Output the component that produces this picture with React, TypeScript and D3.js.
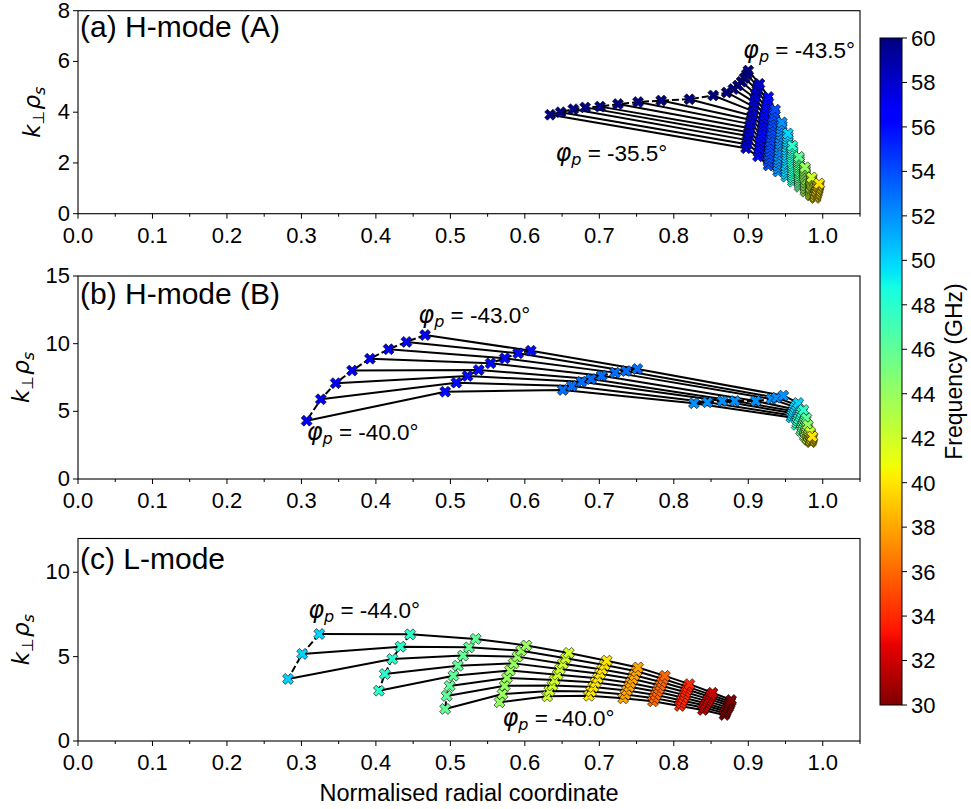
import React from 'react';
import * as d3 from 'd3';

// ---------------------------------------------------------------------------
// Data. Each panel: one column per probing frequency (GHz); inside a column the
// points are ordered by launch angle, from the most negative angle (top) down.
// ---------------------------------------------------------------------------

// (a) H-mode (A): launch angles -43.5° ... -35.5°
const aFreqs = [60, 58, 56, 54, 52, 50, 48, 46, 44, 42, 40];
const aX = [
  [0.900, 0.898, 0.895, 0.891, 0.886, 0.880, 0.871, 0.853, 0.821, 0.783, 0.752, 0.725, 0.701, 0.681, 0.665, 0.648, 0.634],
  [0.915, 0.913, 0.912, 0.910, 0.909, 0.908, 0.907, 0.906, 0.905, 0.904, 0.903, 0.902, 0.901, 0.900, 0.899, 0.898, 0.897],
  [0.927, 0.926, 0.925, 0.924, 0.923, 0.922, 0.921, 0.920, 0.920, 0.919, 0.918, 0.917, 0.916, 0.916, 0.915, 0.914, 0.913],
  [0.936, 0.935, 0.934, 0.934, 0.933, 0.933, 0.932, 0.932, 0.931, 0.930, 0.930, 0.929, 0.929, 0.928, 0.928, 0.927, 0.927],
  [0.945, 0.945, 0.944, 0.944, 0.944, 0.943, 0.943, 0.943, 0.942, 0.942, 0.942, 0.941, 0.941, 0.941, 0.940, 0.940, 0.940],
  [0.953, 0.953, 0.953, 0.953, 0.953, 0.952, 0.952, 0.952, 0.952, 0.952, 0.952, 0.952, 0.951, 0.951, 0.951, 0.951, 0.951],
  [0.959, 0.959, 0.959, 0.959, 0.959, 0.959, 0.959, 0.959, 0.960, 0.960, 0.960, 0.960, 0.960, 0.960, 0.960, 0.960, 0.960],
  [0.968, 0.968, 0.968, 0.968, 0.968, 0.968, 0.968, 0.968, 0.969, 0.969, 0.969, 0.969, 0.969, 0.969, 0.969, 0.969, 0.969],
  [0.976, 0.976, 0.976, 0.976, 0.976, 0.976, 0.976, 0.976, 0.977, 0.977, 0.977, 0.977, 0.977, 0.977, 0.977, 0.977, 0.977],
  [0.985, 0.985, 0.985, 0.985, 0.985, 0.985, 0.985, 0.985, 0.984, 0.984, 0.984, 0.984, 0.984, 0.984, 0.984, 0.984, 0.984],
  [0.995, 0.995, 0.994, 0.994, 0.994, 0.993, 0.993, 0.993, 0.992, 0.992, 0.992, 0.991, 0.991, 0.991, 0.990, 0.990, 0.990],
];
const aY = [
  [5.64, 5.50, 5.35, 5.20, 5.05, 4.91, 4.78, 4.66, 4.51, 4.46, 4.40, 4.32, 4.22, 4.19, 4.12, 4.00, 3.90],
  [5.12, 5.00, 4.87, 4.72, 4.56, 4.40, 4.22, 4.04, 3.86, 3.69, 3.53, 3.37, 3.21, 3.06, 2.90, 2.74, 2.58],
  [4.60, 4.45, 4.31, 4.16, 4.02, 3.87, 3.72, 3.58, 3.43, 3.28, 3.14, 2.99, 2.84, 2.70, 2.55, 2.41, 2.26],
  [4.10, 3.96, 3.82, 3.69, 3.55, 3.41, 3.27, 3.14, 3.00, 2.86, 2.72, 2.59, 2.45, 2.31, 2.17, 2.04, 1.90],
  [3.60, 3.48, 3.36, 3.24, 3.11, 2.99, 2.87, 2.75, 2.63, 2.51, 2.39, 2.27, 2.14, 2.02, 1.90, 1.78, 1.66],
  [3.16, 3.05, 2.95, 2.84, 2.74, 2.63, 2.52, 2.42, 2.31, 2.20, 2.10, 1.99, 1.89, 1.78, 1.67, 1.57, 1.46],
  [2.68, 2.59, 2.50, 2.41, 2.33, 2.24, 2.15, 2.06, 1.97, 1.88, 1.79, 1.70, 1.62, 1.53, 1.44, 1.35, 1.26],
  [2.24, 2.17, 2.09, 2.02, 1.94, 1.87, 1.80, 1.72, 1.65, 1.58, 1.50, 1.43, 1.36, 1.28, 1.21, 1.13, 1.06],
  [1.83, 1.77, 1.71, 1.65, 1.59, 1.53, 1.47, 1.41, 1.35, 1.29, 1.23, 1.17, 1.11, 1.05, 0.99, 0.93, 0.87],
  [1.43, 1.39, 1.34, 1.30, 1.25, 1.21, 1.16, 1.12, 1.08, 1.03, 0.99, 0.94, 0.90, 0.85, 0.81, 0.76, 0.72],
  [1.19, 1.15, 1.12, 1.08, 1.05, 1.01, 0.97, 0.94, 0.90, 0.87, 0.83, 0.80, 0.76, 0.73, 0.69, 0.66, 0.62],
];

// (b) H-mode (B): launch angles -43.0° ... -40.0°
const bFreqs = [57, 56, 53, 52, 50, 48, 46, 44, 42, 40];
const bX = [
  [0.466, 0.441, 0.417, 0.392, 0.368, 0.346, 0.326, 0.307],
  [0.608, 0.591, 0.573, 0.554, 0.538, 0.523, 0.508, 0.493],
  [0.751, 0.736, 0.721, 0.703, 0.689, 0.676, 0.663, 0.651],
  [0.947, 0.938, 0.931, 0.910, 0.882, 0.865, 0.845, 0.827],
  [0.967, 0.965, 0.963, 0.962, 0.961, 0.960, 0.959, 0.958],
  [0.974, 0.972, 0.971, 0.970, 0.968, 0.967, 0.966, 0.965],
  [0.978, 0.977, 0.976, 0.975, 0.974, 0.973, 0.972, 0.971],
  [0.980, 0.979, 0.979, 0.978, 0.977, 0.977, 0.976, 0.976],
  [0.983, 0.983, 0.982, 0.982, 0.981, 0.981, 0.980, 0.980],
  [0.986, 0.986, 0.985, 0.985, 0.985, 0.984, 0.984, 0.984],
];
const bY = [
  [10.64, 10.13, 9.59, 8.89, 8.01, 7.08, 5.89, 4.31],
  [9.48, 9.29, 8.92, 8.55, 8.06, 7.61, 7.12, 6.45],
  [8.13, 7.98, 7.86, 7.63, 7.39, 7.19, 6.87, 6.58],
  [6.16, 6.01, 5.91, 5.76, 5.76, 5.76, 5.67, 5.60],
  [5.62, 5.47, 5.31, 5.16, 5.01, 4.86, 4.70, 4.55],
  [5.10, 4.94, 4.78, 4.62, 4.46, 4.31, 4.16, 4.00],
  [4.49, 4.36, 4.22, 4.09, 3.95, 3.82, 3.68, 3.55],
  [3.99, 3.86, 3.72, 3.60, 3.49, 3.38, 3.27, 3.15],
  [3.48, 3.40, 3.31, 3.23, 3.15, 3.07, 2.98, 2.90],
  [3.14, 3.08, 3.02, 2.96, 2.90, 2.84, 2.78, 2.72],
];

// (c) L-mode: launch angles -44.0° ... -40.0°; the steeper rays only reach the lower frequencies
const cFreqs = [50, 48, 46, 44, 42, 40, 38, 36, 34, 32, 30];
const cX = [
  [0.324, 0.301, 0.282],
  [0.446, 0.433, 0.422, 0.412, 0.404],
  [0.534, 0.525, 0.517, 0.510, 0.504, 0.499, 0.495, 0.493],
  [0.602, 0.595, 0.590, 0.585, 0.580, 0.576, 0.573, 0.570, 0.566],
  [0.659, 0.655, 0.651, 0.647, 0.644, 0.640, 0.637, 0.633, 0.630],
  [0.710, 0.707, 0.704, 0.701, 0.698, 0.695, 0.692, 0.689, 0.686],
  [0.752, 0.750, 0.747, 0.745, 0.742, 0.740, 0.737, 0.735, 0.732],
  [0.788, 0.786, 0.784, 0.782, 0.780, 0.778, 0.776, 0.774, 0.772],
  [0.821, 0.819, 0.818, 0.816, 0.815, 0.813, 0.811, 0.810, 0.808],
  [0.852, 0.850, 0.849, 0.847, 0.846, 0.844, 0.842, 0.841, 0.839],
  [0.877, 0.876, 0.875, 0.874, 0.873, 0.871, 0.870, 0.869, 0.868],
];
const cY = [
  [6.34, 5.16, 3.68],
  [6.32, 5.59, 4.86, 3.97, 2.98],
  [6.05, 5.55, 5.06, 4.46, 3.87, 3.26, 2.67, 1.90],
  [5.66, 5.35, 5.00, 4.60, 4.18, 3.74, 3.27, 2.78, 2.30],
  [5.22, 4.90, 4.58, 4.26, 3.93, 3.61, 3.29, 2.97, 2.65],
  [4.76, 4.50, 4.24, 3.98, 3.72, 3.46, 3.20, 2.94, 2.68],
  [4.36, 4.13, 3.90, 3.67, 3.44, 3.21, 2.99, 2.76, 2.53],
  [3.86, 3.67, 3.48, 3.29, 3.10, 2.92, 2.73, 2.54, 2.35],
  [3.37, 3.21, 3.05, 2.89, 2.72, 2.56, 2.40, 2.24, 2.08],
  [2.86, 2.73, 2.61, 2.48, 2.35, 2.22, 2.10, 1.97, 1.84],
  [2.43, 2.32, 2.21, 2.10, 1.98, 1.87, 1.76, 1.65, 1.54],
];

// Axis ticks
const xTickValues = [0, 0.1, 0.2, 0.3, 0.4, 0.5, 0.6, 0.7, 0.8, 0.9, 1.0];
const xMinorValues = [0.05, 0.15, 0.25, 0.35, 0.45, 0.55, 0.65, 0.75, 0.85, 0.95, 1.05];
const aYTicks = [0, 2, 4, 6, 8];
const bYTicks = [0, 5, 10, 15];
const cYTicks = [0, 5, 10];
const cbarTicks = [30, 32, 34, 36, 38, 40, 42, 44, 46, 48, 50, 52, 54, 56, 58, 60];

// ---------------------------------------------------------------------------
// Layout & styles
// ---------------------------------------------------------------------------
const W = 971;
const H = 809;
const LEFT = 78;
const RIGHT = 860;
const SANS = "'Liberation Sans', Arial, Helvetica, sans-serif";
const MATH = "'DejaVu Sans', sans-serif";
const TICK_FS = 22;

const CB = { x0: 880, x1: 902, top: 38, bottom: 705 };

// matplotlib "jet" segment data, reversed so that 60 GHz is dark blue
const JET_R: [number, number][] = [[0, 0], [0.35, 0], [0.66, 1], [0.89, 1], [1, 0.5]];
const JET_G: [number, number][] = [[0, 0], [0.125, 0], [0.375, 1], [0.64, 1], [0.91, 0], [1, 0]];
const JET_B: [number, number][] = [[0, 0.5], [0.11, 1], [0.34, 1], [0.65, 0], [1, 0]];
const channel = (pts: [number, number][]) =>
  d3.scaleLinear().domain(pts.map((p) => p[0])).range(pts.map((p) => p[1])).clamp(true);
const jr = channel(JET_R);
const jg = channel(JET_G);
const jb = channel(JET_B);
const jet = (t: number) => d3.rgb(jr(t) * 255, jg(t) * 255, jb(t) * 255).formatHex();
const freqToT = d3.scaleLinear().domain([60, 30]).range([0, 1]).clamp(true);
const freqColor = (f: number) => jet(freqToT(f));
const JET_STOPS = [0, 0.11, 0.125, 0.34, 0.35, 0.375, 0.64, 0.65, 0.66, 0.89, 0.91, 1];

// filled "X" marker outline
const XV = [[-1, -2], [0, -1], [1, -2], [2, -1], [1, 0], [2, 1], [1, 2], [0, 1], [-1, 2], [-2, 1], [-1, 0], [-2, -1]];
const MARKER_SIZE = 11;
const markerPath =
  'M' + XV.map(([a, b]) => `${((a / 4) * MARKER_SIZE).toFixed(2)},${((b / 4) * MARKER_SIZE).toFixed(2)}`).join('L') + 'Z';

type Note = { text: string; x: number; y: number };
type PanelCfg = {
  title: string;
  titleBaseline: number;
  top: number;
  bottom: number;
  yMax: number;
  yTicks: number[];
  ylabelX: number;
  freqs: number[];
  xs: number[][];
  ys: number[][];
  notes: Note[];
};

const panels: PanelCfg[] = [
  {
    title: '(a) H-mode (A)', titleBaseline: 37, top: 10.7, bottom: 213.7, yMax: 8, yTicks: aYTicks, ylabelX: 40,
    freqs: aFreqs, xs: aX, ys: aY,
    notes: [{ text: '-43.5°', x: 0.893, y: 6.12 }, { text: '-35.5°', x: 0.641, y: 2.08 }],
  },
  {
    title: '(b) H-mode (B)', titleBaseline: 304, top: 276, bottom: 479, yMax: 15, yTicks: bYTicks, ylabelX: 29,
    freqs: bFreqs, xs: bX, ys: bY,
    notes: [{ text: '-43.0°', x: 0.457, y: 11.53 }, { text: '-40.0°', x: 0.307, y: 2.88 }],
  },
  {
    title: '(c) L-mode', titleBaseline: 569, top: 538.5, bottom: 741, yMax: 12, yTicks: cYTicks, ylabelX: 29,
    freqs: cFreqs, xs: cX, ys: cY,
    notes: [{ text: '-44.0°', x: 0.309, y: 7.29 }, { text: '-40.0°', x: 0.570, y: 0.89 }],
  },
];

const xScale = d3.scaleLinear().domain([0, 1.05]).range([LEFT, RIGHT]);

function PhiLabel({ x, y, text }: { x: number; y: number; text: string }) {
  return (
    <text x={x} y={y} fontFamily={SANS} fontSize={22.5} fill="#000">
      <tspan fontFamily={MATH} fontStyle="italic" fontSize={24}>φ</tspan>
      <tspan fontFamily={MATH} fontStyle="italic" fontSize={16} dy={4}>p</tspan>
      <tspan dy={-4}>{` = ${text}`}</tspan>
    </text>
  );
}

function YLabel({ x, cy }: { x: number; cy: number }) {
  return (
    <text transform={`translate(${x},${cy}) rotate(-90)`} textAnchor="middle" fontFamily={MATH} fontSize={23} fill="#000">
      <tspan fontStyle="italic">k</tspan>
      <tspan fontSize={16} dy={4}>⊥</tspan>
      <tspan fontStyle="italic" dy={-4} dx={1}>ρ</tspan>
      <tspan fontStyle="italic" fontSize={16} dy={5}>s</tspan>
    </text>
  );
}

function Panel({ cfg, id }: { cfg: PanelCfg; id: string }) {
  const y = d3.scaleLinear().domain([0, cfg.yMax]).range([cfg.bottom, cfg.top]);
  const line = d3.line<[number, number]>().x((d) => xScale(d[0])).y((d) => y(d[1]));
  const nRays = d3.max(cfg.xs, (c) => c.length) ?? 0;

  // rays: same launch angle joined across frequencies
  const rays = d3.range(nRays).map((r) =>
    cfg.xs
      .map((col, ci) => (r < col.length ? ([col[r], cfg.ys[ci][r]] as [number, number]) : null))
      .filter((p): p is [number, number] => p !== null)
  );
  // frequency columns: same frequency joined across launch angles
  const columns = cfg.xs.map((col, ci) => col.map((v, r) => [v, cfg.ys[ci][r]] as [number, number]));

  return (
    <g id={id}>
      <rect x={LEFT} y={cfg.top} width={RIGHT - LEFT} height={cfg.bottom - cfg.top} fill="#fff" />
      <g fill="none" stroke="#000" strokeWidth={2} strokeLinejoin="round">
        {rays.map((pts, i) => (pts.length > 1 ? <path key={`r${i}`} d={line(pts) ?? ''} /> : null))}
      </g>
      <g fill="none" stroke="#000" strokeWidth={2} strokeDasharray="7,3">
        {columns.map((pts, i) => <path key={`c${i}`} d={line(pts) ?? ''} />)}
      </g>
      <g stroke="#000" strokeWidth={0.6}>
        {columns.map((pts, ci) =>
          pts
            .slice()
            .reverse()
            .map((p, k) => (
              <path
                key={`m${ci}-${k}`}
                d={markerPath}
                transform={`translate(${xScale(p[0]).toFixed(2)},${y(p[1]).toFixed(2)})`}
                fill={freqColor(cfg.freqs[ci])}
              />
            ))
        )}
      </g>
      <rect x={LEFT} y={cfg.top} width={RIGHT - LEFT} height={cfg.bottom - cfg.top} fill="none" stroke="#000" strokeWidth={1.1} />
      {/* ticks */}
      <g stroke="#000" strokeWidth={1}>
        {xTickValues.map((v) => (
          <line key={`xt${v}`} x1={xScale(v)} x2={xScale(v)} y1={cfg.bottom} y2={cfg.bottom + 5} />
        ))}
        {xMinorValues.map((v) => (
          <line key={`xm${v}`} x1={xScale(v)} x2={xScale(v)} y1={cfg.bottom} y2={cfg.bottom + 3} />
        ))}
        {cfg.yTicks.map((v) => (
          <line key={`yt${v}`} x1={LEFT - 5} x2={LEFT} y1={y(v)} y2={y(v)} />
        ))}
      </g>
      <g fontFamily={SANS} fontSize={TICK_FS} fill="#000">
        {xTickValues.map((v) => (
          <text key={`xl${v}`} x={xScale(v)} y={cfg.bottom + 29} textAnchor="middle">
            {d3.format('.1f')(v)}
          </text>
        ))}
        {cfg.yTicks.map((v) => (
          <text key={`yl${v}`} x={LEFT - 8} y={y(v)} dy="0.32em" textAnchor="end">
            {v}
          </text>
        ))}
      </g>
      <text x={LEFT + 2} y={cfg.titleBaseline} fontFamily={SANS} fontSize={30} fill="#000">
        {cfg.title}
      </text>
      {cfg.notes.map((n, i) => (
        <PhiLabel key={`n${i}`} x={xScale(n.x)} y={y(n.y)} text={n.text} />
      ))}
      <YLabel x={cfg.ylabelX} cy={(cfg.top + cfg.bottom) / 2} />
    </g>
  );
}

function Colorbar() {
  const cy = d3.scaleLinear().domain([30, 60]).range([CB.bottom, CB.top]);
  return (
    <g>
      <defs>
        <linearGradient id="jetGrad" x1="0" y1="0" x2="0" y2="1">
          {JET_STOPS.map((t) => (
            <stop key={t} offset={t} stopColor={jet(t)} />
          ))}
        </linearGradient>
      </defs>
      <rect x={CB.x0} y={CB.top} width={CB.x1 - CB.x0} height={CB.bottom - CB.top} fill="url(#jetGrad)" stroke="#000" strokeWidth={1} />
      <g stroke="#000" strokeWidth={1}>
        {cbarTicks.map((v) => (
          <line key={v} x1={CB.x1} x2={CB.x1 + 5} y1={cy(v)} y2={cy(v)} />
        ))}
      </g>
      <g fontFamily={SANS} fontSize={TICK_FS} fill="#000">
        {cbarTicks.map((v) => (
          <text key={v} x={CB.x1 + 9} y={cy(v)} dy="0.36em">
            {v}
          </text>
        ))}
      </g>
      <text
        transform={`translate(${962},${(CB.top + CB.bottom) / 2}) rotate(-90)`}
        textAnchor="middle"
        fontFamily={SANS}
        fontSize={23}
        fill="#000"
      >
        Frequency (GHz)
      </text>
    </g>
  );
}

export default function App() {
  return (
    <svg width={W} height={H} viewBox={`0 0 ${W} ${H}`} style={{ display: 'block', position: 'absolute', left: 0, top: 0, background: '#fff' }}>
      <rect width={W} height={H} fill="#fff" />
      {panels.map((p, i) => (
        <Panel key={i} cfg={p} id={`panel-${i}`} />
      ))}
      <Colorbar />
      <text x={(LEFT + RIGHT) / 2} y={801} textAnchor="middle" fontFamily={SANS} fontSize={23.5} fill="#000">
        Normalised radial coordinate
      </text>
    </svg>
  );
}
